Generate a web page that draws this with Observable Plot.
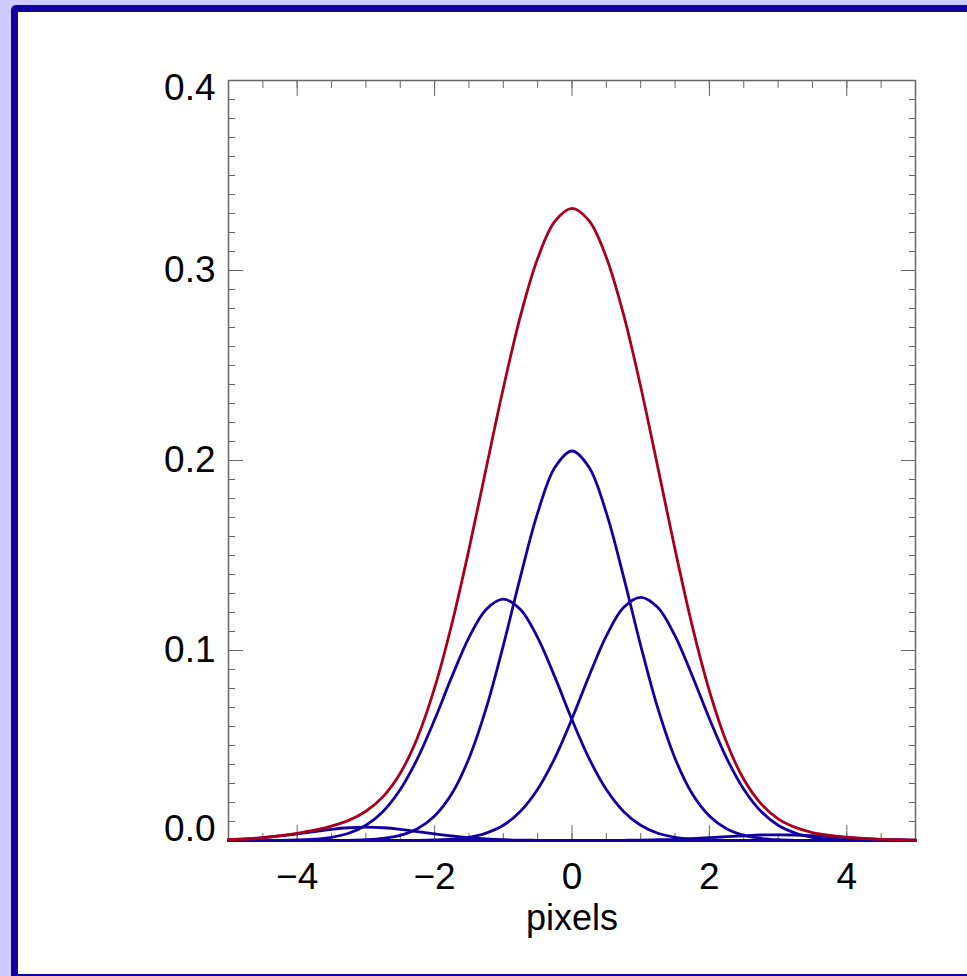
<!DOCTYPE html>
<html>
<head>
<meta charset="utf-8">
<script src="https://cdn.jsdelivr.net/npm/d3@7"></script>
<script src="https://cdn.jsdelivr.net/npm/@observablehq/plot@0.6"></script>
<style>
  html, body { margin: 0; padding: 0; background: #ccccff; overflow: hidden; width: 967px; height: 976px; }
  #frame { position: absolute; left: 11px; top: 5px; width: 1000px; height: 976px; box-sizing: border-box;
           border: 7px solid #1100a0; border-radius: 5px; background: #ffffff; }
  #chart { position: absolute; left: 18px; top: 12px; }
</style>
</head>
<body>
<div id="frame"></div>
<div id="chart"></div>
<script>
// x sample positions (pixels)
const xs = [-5, -4.75, -4.5, -4.25, -4, -3.75, -3.5, -3.25, -3, -2.75, -2.5, -2.25, -2, -1.75, -1.5, -1.25, -1, -0.75, -0.5, -0.25,
            0, 0.25, 0.5, 0.75, 1, 1.25, 1.5, 1.75, 2, 2.25, 2.5, 2.75, 3, 3.25, 3.5, 3.75, 4, 4.25, 4.5, 4.75, 5];

// component profiles
const centre = [0, 0, 0, 0, 0, 0, 0, 0.0001, 0.0004, 0.0011, 0.0027, 0.0062, 0.0129, 0.0246, 0.0432, 0.0695, 0.1026, 0.1389, 0.1724, 0.1963,
                0.2050, 0.1963, 0.1724, 0.1389, 0.1026, 0.0695, 0.0432, 0.0246, 0.0129, 0.0062, 0.0027, 0.0011, 0.0004, 0.0001, 0, 0, 0, 0, 0, 0, 0];
const left1 = [0, 0, 0, 0.0001, 0.0003, 0.0007, 0.0017, 0.0038, 0.0080, 0.0153, 0.0268, 0.0431, 0.0636, 0.0861, 0.1068, 0.1216, 0.1270, 0.1216, 0.1068, 0.0861,
               0.0636, 0.0431, 0.0268, 0.0153, 0.0080, 0.0038, 0.0017, 0.0007, 0.0003, 0.0001, 0, 0, 0, 0, 0, 0, 0, 0, 0, 0, 0];
const right1 = [0, 0, 0, 0, 0, 0, 0, 0, 0, 0, 0, 0.0001, 0.0003, 0.0007, 0.0017, 0.0039, 0.0080, 0.0154, 0.0270, 0.0434,
                0.0641, 0.0867, 0.1077, 0.1226, 0.1280, 0.1226, 0.1077, 0.0867, 0.0641, 0.0434, 0.0270, 0.0154, 0.0080, 0.0039, 0.0017, 0.0007, 0.0003, 0.0001, 0, 0, 0];
const left3 = [0.0004, 0.0008, 0.0015, 0.0024, 0.0035, 0.0047, 0.0059, 0.0067, 0.0070, 0.0067, 0.0059, 0.0047, 0.0035, 0.0024, 0.0015, 0.0008, 0.0004, 0.0002, 0.0001, 0,
               0, 0, 0, 0, 0, 0, 0, 0, 0, 0, 0, 0, 0, 0, 0, 0, 0, 0, 0, 0, 0];
const right3 = [0, 0, 0, 0, 0, 0, 0, 0, 0, 0, 0, 0, 0, 0, 0, 0, 0, 0, 0, 0,
                0, 0, 0, 0.0001, 0.0002, 0.0004, 0.0006, 0.0010, 0.0015, 0.0020, 0.0025, 0.0029, 0.0030, 0.0029, 0.0025, 0.0020, 0.0015, 0.0010, 0.0006, 0.0004, 0.0002];
const total = [0.0004, 0.0008, 0.0015, 0.0025, 0.0038, 0.0054, 0.0076, 0.0106, 0.0154, 0.0231, 0.0354, 0.0541, 0.0803, 0.1138, 0.1532, 0.1958, 0.2380, 0.2761, 0.3063, 0.3258,
               0.3327, 0.3261, 0.3069, 0.2769, 0.2388, 0.1963, 0.1532, 0.1130, 0.0788, 0.0517, 0.0322, 0.0194, 0.0114, 0.0069, 0.0042, 0.0027, 0.0018, 0.0011, 0.0006, 0.0004, 0.0002];

// tick values
const xMajor = [-4, -2, 0, 2, 4];
const xMinor = [-5, -4.5, -4, -3.5, -3, -2.5, -2, -1.5, -1, -0.5, 0, 0.5, 1, 1.5, 2, 2.5, 3, 3.5, 4, 4.5, 5];
const yMajorMid = [0.1, 0.2, 0.3];
const yMajor = [0, 0.1, 0.2, 0.3, 0.4];
const yMinor = [0, 0.01, 0.02, 0.03, 0.04, 0.05, 0.06, 0.07, 0.08, 0.09, 0.1, 0.11, 0.12, 0.13, 0.14, 0.15, 0.16, 0.17, 0.18, 0.19,
                0.2, 0.21, 0.22, 0.23, 0.24, 0.25, 0.26, 0.27, 0.28, 0.29, 0.3, 0.31, 0.32, 0.33, 0.34, 0.35, 0.36, 0.37, 0.38, 0.39, 0.4];
const xLabel = "pixels";

const series = [
  {name: "left3", ys: left3},
  {name: "left1", ys: left1},
  {name: "centre", ys: centre},
  {name: "right1", ys: right1},
  {name: "right3", ys: right3}
];
const blueRows = series.flatMap(s => xs.map((x, i) => ({series: s.name, x, y: s.ys[i]})));
const redRows = xs.map((x, i) => ({x, y: total[i]}));

const blue = "#1400a0";
const red = "#a8001c";
const axisGrey = "#666";
const FS = 37;
const fmtX = d => d < 0 ? "\u2212" + Math.abs(d) : String(d);
const fmtY = d => d.toFixed(1);
const blank = () => "";

const chart = Plot.plot({
  width: 949,
  height: 962,
  marginLeft: 210,
  marginRight: 52,
  marginTop: 68,
  marginBottom: 134,
  style: {background: "transparent", fontFamily: "'Liberation Sans', Arial, Helvetica, sans-serif", overflow: "visible"},
  x: {domain: [-5, 5]},
  y: {domain: [0, 0.4]},
  marks: [
    Plot.frame({stroke: axisGrey, strokeWidth: 1.5}),
    // inward minor ticks
    Plot.axisX(xMinor, {anchor: "bottom", tickSize: -7, tickFormat: blank, label: null, stroke: axisGrey}),
    Plot.axisX(xMinor, {anchor: "top", tickSize: -7, tickFormat: blank, label: null, stroke: axisGrey}),
    Plot.axisY(yMinor, {anchor: "left", tickSize: -7, tickFormat: blank, label: null, stroke: axisGrey}),
    Plot.axisY(yMinor, {anchor: "right", tickSize: -7, tickFormat: blank, label: null, stroke: axisGrey}),
    // inward major ticks
    Plot.axisX(xMajor, {anchor: "bottom", tickSize: -15, tickFormat: blank, label: null, stroke: axisGrey}),
    Plot.axisX(xMajor, {anchor: "top", tickSize: -15, tickFormat: blank, label: null, stroke: axisGrey}),
    Plot.axisY(yMajor, {anchor: "left", tickSize: -15, tickFormat: blank, label: null, stroke: axisGrey}),
    Plot.axisY(yMajor, {anchor: "right", tickSize: -15, tickFormat: blank, label: null, stroke: axisGrey}),
    // tick labels
    Plot.axisX(xMajor, {anchor: "bottom", tickSize: 0, tickPadding: 22, tickFormat: fmtX, label: null, fontSize: FS}),
    Plot.axisY(yMajorMid, {anchor: "left", tickSize: 0, tickPadding: 13, tickFormat: fmtY, label: null, fontSize: FS}),
    Plot.axisY([0], {anchor: "left", tickSize: 0, tickPadding: 13, tickFormat: fmtY, label: null, fontSize: FS, dy: -11}),
    Plot.axisY([0.4], {anchor: "left", tickSize: 0, tickPadding: 13, tickFormat: fmtY, label: null, fontSize: FS, dy: 8}),
    Plot.text([xLabel], {frameAnchor: "bottom", text: d => d, dy: 78, lineAnchor: "middle", fontSize: 36}),
    // curves
    Plot.line(blueRows, {x: "x", y: "y", z: "series", stroke: blue, strokeWidth: 2.8, curve: "catmull-rom"}),
    Plot.line(redRows, {x: "x", y: "y", stroke: red, strokeWidth: 2.8, curve: "catmull-rom"})
  ]
});
document.getElementById("chart").appendChild(chart);
</script>
</body>
</html>
